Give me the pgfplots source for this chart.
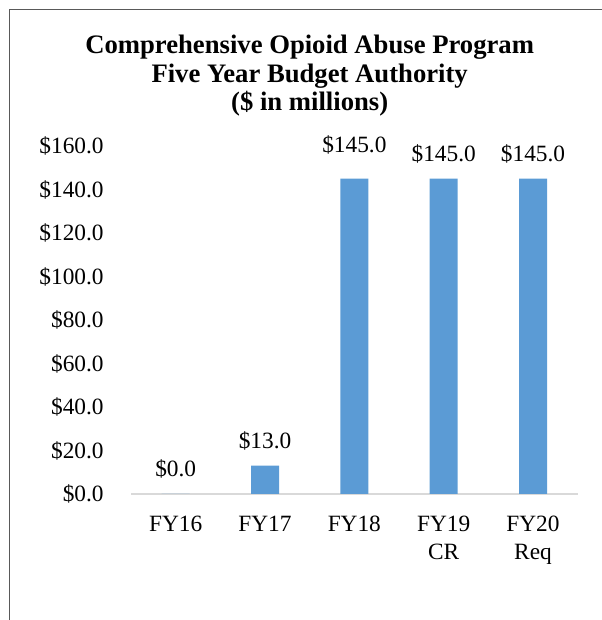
\documentclass[border=0pt]{standalone}
\usepackage{fontspec}
\setmainfont{Liberation Serif}
\usepackage{pgfplots}
\pgfplotsset{compat=1.18}

\definecolor{barblue}{RGB}{91,155,213}
\definecolor{frame}{RGB}{89,89,89}
\definecolor{baseline}{RGB}{217,217,217}

\begin{document}
\begin{tikzpicture}
\useasboundingbox (0,0) rectangle (451.5pt,465pt);
\draw[frame, line width=1.2pt] (7.1pt,-2pt) -- (7.1pt,457.9pt) -- (455pt,457.9pt);
\begin{axis}[
    at={(98.25pt,94.5pt)}, anchor=south west,
    scale only axis,
    width=335pt, height=261pt,
    ybar, bar width=21pt,
    xmin=-0.5, xmax=4.5,
    ymin=0, ymax=160,
    xtick=data,
    xticklabels={FY16, FY17, FY18, {FY19\\CR}, {FY20\\Req}},
    ytick={0,20,...,160},
    yticklabel={\$\pgfmathprintnumber{\tick}},
    /pgf/number format/.cd, fixed, fixed zerofill, precision=1, assume math mode=true,
    /pgfplots/.cd,
    axis x line*=bottom, axis y line*=left,
    x axis line style={-, draw=baseline, line width=1pt},
    y axis line style={draw=none},
    tick style={draw=none},
    tick label style={font=\fontsize{17.5}{21}\selectfont},
    xticklabel style={align=center, yshift=-9pt},
    yticklabel style={anchor=east, xshift=-17pt},
    title={Comprehensive Opioid Abuse Program\\Five Year Budget Authority\\(\$ in millions)},
    title style={font=\fontsize{20}{21.5}\selectfont\bfseries, align=center,
        at={(0.40,1)}, anchor=south, inner sep=0pt, yshift=16pt},
    nodes near coords={\$\pgfmathprintnumber{\pgfplotspointmeta}},
    nodes near coords style={font=\fontsize{17.5}{21}\selectfont, yshift=8pt, black},
    coordinate style/.condition={x==2}{yshift=7pt},
    clip=false,
]
\addplot[fill=barblue, draw=none] coordinates {
    (0,0) (1,13) (2,145) (3,145) (4,145)
};
\end{axis}
\end{tikzpicture}
\end{document}
